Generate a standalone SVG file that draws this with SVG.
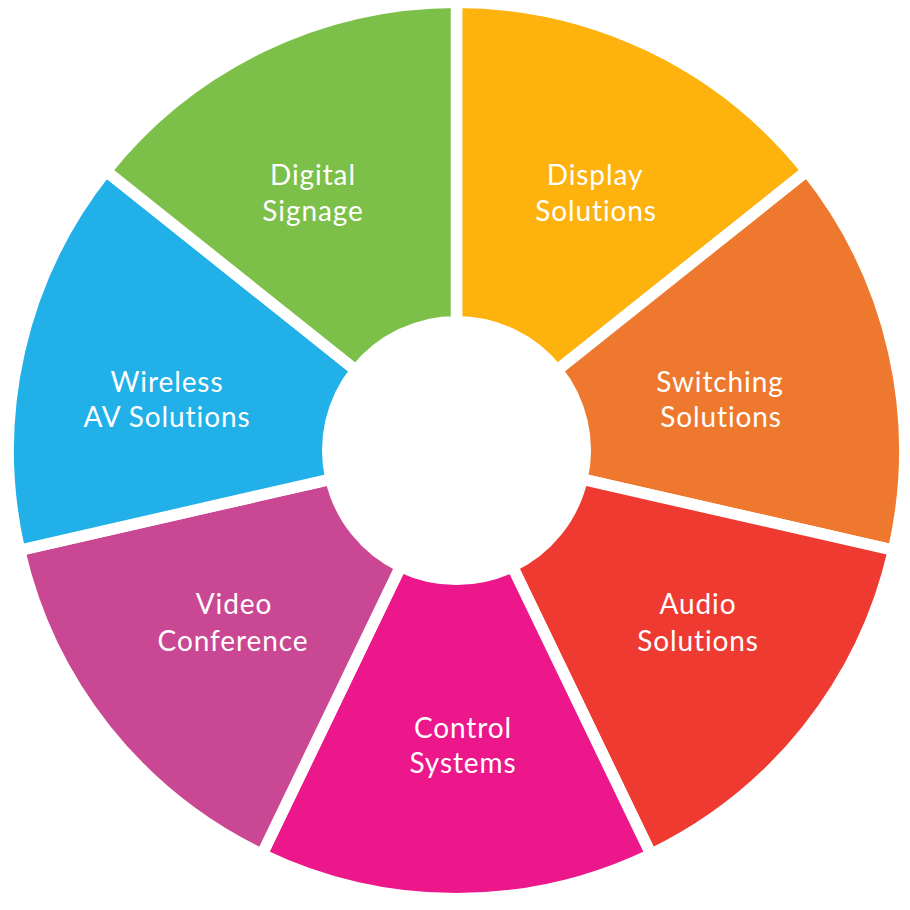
<svg xmlns="http://www.w3.org/2000/svg" width="910" height="910" viewBox="0 0 910 910">
<style>
.seg{stroke:#ffffff;stroke-width:11.5;stroke-linejoin:miter}
.lbl{font-family:Lato,"Open Sans","Liberation Sans",sans-serif;font-size:28px;fill:#ffffff;text-anchor:middle;letter-spacing:0.9px}
</style>
<rect width="910" height="910" fill="#ffffff"/>
<g id="display-solutions">
<path class="seg" fill="#FDB20E" d="M456.5,2.25 A448.25,448.25 0 0 1 806.96,171.02 L557.16,370.23 A128.75,128.75 0 0 0 456.5,321.75 Z"/>
<text class="lbl" x="595" y="185">Display</text>
<text class="lbl" x="596" y="221">Solutions</text>
</g>
<g id="switching-solutions">
<path class="seg" fill="#EE782D" d="M806.96,171.02 A448.25,448.25 0 0 1 893.51,550.24 L582.02,479.15 A128.75,128.75 0 0 0 557.16,370.23 Z"/>
<text class="lbl" x="720" y="392">Switching</text>
<text class="lbl" x="721" y="427">Solutions</text>
</g>
<g id="audio-solutions">
<path class="seg" fill="#EE3A30" d="M893.51,550.24 A448.25,448.25 0 0 1 650.99,854.36 L512.36,566.5 A128.75,128.75 0 0 0 582.02,479.15 Z"/>
<text class="lbl" x="698" y="614">Audio</text>
<text class="lbl" x="698" y="651">Solutions</text>
</g>
<g id="control-systems">
<path class="seg" fill="#EC178B" d="M650.99,854.36 A448.25,448.25 0 0 1 262.01,854.36 L400.64,566.5 A128.75,128.75 0 0 0 512.36,566.5 Z"/>
<text class="lbl" x="463" y="738">Control</text>
<text class="lbl" x="463" y="773">Systems</text>
</g>
<g id="video-conference">
<path class="seg" fill="#C94793" d="M262.01,854.36 A448.25,448.25 0 0 1 19.49,550.24 L330.98,479.15 A128.75,128.75 0 0 0 400.64,566.5 Z"/>
<text class="lbl" x="234" y="614">Video</text>
<text class="lbl" x="233" y="651">Conference</text>
</g>
<g id="wireless-av-solutions">
<path class="seg" fill="#21B0E8" d="M19.49,550.24 A448.25,448.25 0 0 1 106.04,171.02 L355.84,370.23 A128.75,128.75 0 0 0 330.98,479.15 Z"/>
<text class="lbl" x="167" y="392">Wireless</text>
<text class="lbl" x="167" y="427">AV Solutions</text>
</g>
<g id="digital-signage">
<path class="seg" fill="#7CC049" d="M106.04,171.02 A448.25,448.25 0 0 1 456.5,2.25 L456.5,321.75 A128.75,128.75 0 0 0 355.84,370.23 Z"/>
<text class="lbl" x="313" y="185">Digital</text>
<text class="lbl" x="313" y="221">Signage</text>
</g>
<g id="connectors"></g>
</svg>
